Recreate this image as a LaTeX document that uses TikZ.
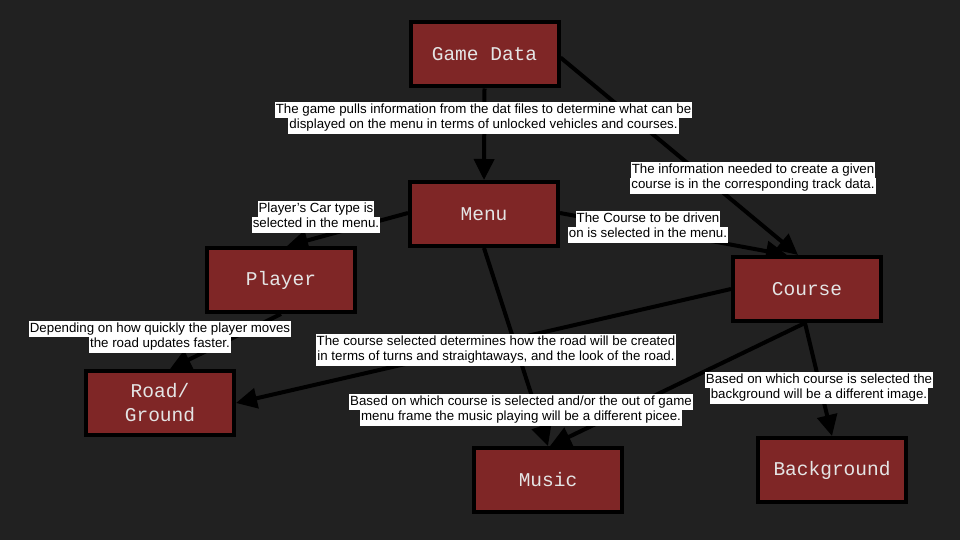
\documentclass[tikz,border=0pt]{standalone}
\usepackage{fontspec}
\setmainfont{Liberation Sans}
\newfontfamily\boxfont{Liberation Mono}
\usetikzlibrary{arrows.meta,calc}
\definecolor{bgc}{HTML}{212121}
\definecolor{boxc}{HTML}{7F2626}
\definecolor{boxtxt}{HTML}{E4E4E4}
\pgfdeclarelayer{bglayer}
\pgfdeclarelayer{edges}
\pgfsetlayers{bglayer,edges,main}
\newcommand{\lbline}[1]{{\setlength{\fboxsep}{0pt}\colorbox{white}{\hspace{1pt}\strut#1\hspace{1pt}}}}
\begin{document}
\begin{tikzpicture}[x=1pt,y=-1pt,
  box/.style={draw=black, line width=4pt, fill=boxc, minimum width=148pt, minimum height=64pt,
    text=boxtxt, font=\boxfont\fontsize{19.5}{24}\selectfont, align=center},
  conn/.style={line width=4pt, -{Triangle[length=21pt,width=20pt]}},
  lbl/.style={inner sep=0pt, align=center, text=black, font=\fontsize{13.3}{15.6}\selectfont}]
\begin{pgfonlayer}{bglayer}
\fill[bgc] (0,0) rectangle (960,540);
\end{pgfonlayer}
\useasboundingbox (0,0) rectangle (960,540);

\node[box] (gd) at (484.5,54.5) {Game Data};
\node[box] (menu) at (484,214) {Menu};
\node[box] (player) at (281,280) {Player};
\node[box] (course) at (807,289) {Course};
\node[box] (road) at (160,403) {Road/\\Ground};
\node[box] (music) at (548,480) {Music};
\node[box] (backg) at (832,470) {Background};

\begin{pgfonlayer}{edges}
\draw[conn] (gd.south) -- (menu.north);
\draw[conn] ($(gd.east)+(0,3)$) -- ($(course.north)+(-9,0)$);
\draw[conn] ($(menu.west)+(0,-1)$) -- ($(player.north)+(6,0)$);
\draw[conn] ($(menu.east)+(0,-1)$) -- ($(course.north)+(-20,0)$);
\draw[conn] (menu.south) -- (music.north);
\draw[conn] (player.south) -- ($(road.north)+(10,0)$);
\draw[conn] (course.west) -- (road.east);
\draw[conn] ($(course.south)+(-2,0)$) -- ($(music.north)+(2,0)$);
\draw[conn] ($(course.south)+(-2,0)$) -- (backg.north);
\end{pgfonlayer}

\node[lbl] (l1) at (483.5,118) {\lbline{The game pulls information from the dat files to determine what can be}\\\lbline{displayed on the menu in terms of unlocked vehicles and courses.}};
\node[lbl] (l2) at (753,178) {\lbline{The information needed to create a given}\\\lbline{course is in the corresponding track data.}};
\node[lbl] (l3) at (316,217) {\lbline{Player’s Car type is}\\\lbline{selected in the menu.}};
\node[lbl] (l4) at (648,227) {\lbline{The Course to be driven}\\\lbline{on is selected in the menu.}};
\node[lbl] (l5) at (160,337) {\lbline{Depending on how quickly the player moves}\\\lbline{the road updates faster.}};
\node[lbl] (l6) at (496,350) {\lbline{The course selected determines how the road will be created}\\\lbline{in terms of turns and straightaways, and the look of the road.}};
\node[lbl] (l7) at (521,410) {\lbline{Based on which course is selected and/or the out of game}\\\lbline{menu frame the music playing will be a different picee.}};
\node[lbl] (l8) at (819,388) {\lbline{Based on which course is selected the}\\\lbline{background will be a different image.}};
\end{tikzpicture}
\end{document}
